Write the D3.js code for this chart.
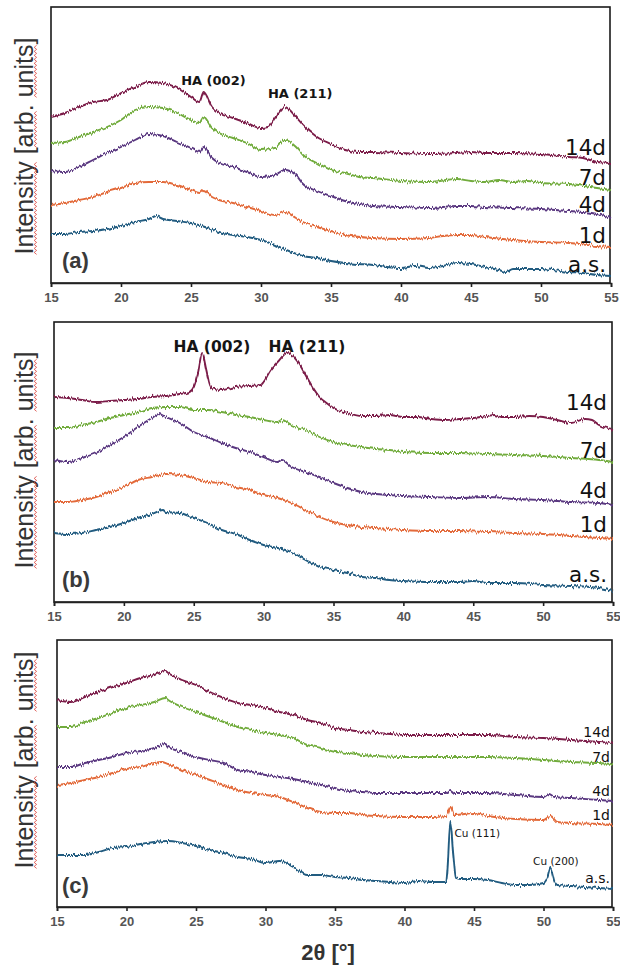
<!DOCTYPE html>
<html>
<head>
<meta charset="utf-8">
<script src="https://cdn.jsdelivr.net/npm/d3@7"></script>
<style>
  html, body { margin: 0; padding: 0; background: #fff; }
  svg { display: block; }
  .tick text { font-family: "Liberation Sans", Arial, sans-serif; font-weight: bold; font-size: 13px; fill: #555; }
  .series-label { font-family: "DejaVu Sans", sans-serif; fill: #111; }
  .peak-label { font-family: "DejaVu Sans", sans-serif; fill: #151515; }
</style>
</head>
<body>
<svg width="620" height="968"></svg>
<script>
// 2θ tick labels
var tickValues = [15, 20, 25, 30, 35, 40, 45, 50, 55];

var seriesNames = ["14d", "7d", "4d", "1d", "a.s."];
var seriesColors = ["#7b1f4a", "#72ac3e", "#5a3880", "#e36b3a", "#215b80"];

// panel (a) : [2θ, intensity a.u.]
var a14d = [[15,166],[16,170],[17,176],[18,181],[19,183],[20,190],[21,196],[22,201],[23,200],[24,195],[25,186],[25.6,181],[25.9,191],[26.5,176],[27,170],[28,165],[29,160],[30,155],[30.5,156],[31,165],[31.7,176],[32.5,166],[33,158],[34,146],[35,139],[36,133],[37,131],[38,131],[40,130],[42,129],[44,130],[45,131],[46,130],[48,130],[50,129],[52,126],[53,125],[54,121],[55,120]];
var a7d = [[15,140],[16,141],[17,146],[18,151],[19,156],[20,163],[21,173],[22,176],[23,175],[24,170],[25,163],[25.6,160],[25.9,166],[26.5,155],[27,150],[28,145],[29,140],[30,133],[31,135],[31.7,143],[32.5,136],[33,128],[34,120],[35,113],[36,110],[37,106],[38,105],[40,102],[42,101],[44,104],[45,102],[46,101],[47,103],[48,101],[49,102],[50,100],[52,99],[54,95],[55,93]];
var a4d = [[15,112],[16,111],[17,116],[18,123],[19,130],[20,136],[21,143],[22,149],[23,147],[24,141],[25,135],[25.6,131],[25.9,136],[26.5,125],[27,120],[28,116],[29,111],[30,106],[31,108],[31.7,113],[32.5,108],[33,99],[34,92],[35,87],[36,82],[37,79],[38,77],[40,76],[42,75],[44,77],[45,77],[46,76],[48,75],[50,74],[52,72],[54,69],[55,65]];
var a1d = [[15,78],[16,80],[17,83],[18,86],[19,91],[20,95],[21,100],[22,101],[23,101],[24,98],[25,93],[25.6,90],[25.9,93],[26.5,86],[27,83],[28,80],[29,76],[30,72],[31,68],[31.7,71],[32.5,65],[33,61],[34,56],[35,52],[36,48],[38,45],[40,44],[42,45],[43,47],[44,48],[45,48],[46,46],[48,43],[50,41],[52,40],[54,37],[55,36]];
var aAs = [[15,49],[16,49],[17,51],[18,52],[19,54],[20,57],[21,61],[22,64],[22.5,67],[23,64],[24,62],[25,60],[26,56],[27,51],[28,48],[29,46],[30,43],[31,38],[32,32],[33,27],[34,25],[35,22],[36,20],[37,19],[38,18],[39,16],[40,15],[41,17],[42,15],[43,17],[44,20],[45,19],[46,16],[47,13],[47.5,11],[48,14],[50,14],[52,11],[53,10],[54,8],[55,7]];

// panel (b)
var b14d = [[15,205],[16,204],[17,202],[18,200],[19,201],[20,202],[21,203],[22,205],[23,206],[24,208],[24.7,210],[25,215],[25.3,229],[25.6,249],[25.9,232],[26.2,215],[26.5,213],[27,212],[28,215],[29,216],[29.8,217],[30,220],[30.5,232],[31,240],[31.7,249],[32,247],[32.5,239],[33,227],[33.5,215],[34,205],[34.5,199],[35,194],[36,189],[37,186],[38,186],[39,187],[40,185],[41,185],[42,183],[43,182],[44,183],[45,184],[46,186],[46.5,187],[47,185],[48,185],[49,186],[50,185],[51,182],[52,179],[53,183],[53.5,182],[54,177],[55,173]];
var b7d = [[15,174],[16,174],[17,177],[18,180],[19,184],[20,187],[21,190],[22,194],[23,195],[24,195],[25,192],[26,192],[27,190],[28,187],[29,185],[30,182],[31,180],[31.3,182],[32,177],[33,172],[34,165],[35,160],[36,157],[37,155],[38,153],[39,152],[40,150],[42,149],[44,149],[46,148],[48,147],[50,146],[52,144],[54,142],[55,140]];
var b4d = [[15,142],[16,140],[17,144],[18,149],[19,157],[20,165],[21,175],[22,184],[22.5,188],[23,185],[24,179],[25,170],[26,165],[27,159],[28,154],[29,150],[30,145],[31,140],[31.3,142],[32,135],[33,130],[34,125],[35,119],[36,114],[37,110],[38,108],[39,107],[40,106],[42,105],[44,104],[46,105],[48,103],[50,102],[52,100],[54,99],[55,97]];
var b1d = [[15,100],[16,100],[17,102],[18,105],[19,110],[20,115],[21,122],[22,125],[23,128],[24,127],[25,124],[26,120],[27,119],[28,115],[29,112],[30,107],[31,104],[32,99],[33,92],[34,85],[35,80],[36,77],[37,75],[38,74],[39,73],[40,72],[42,71],[44,71],[46,70],[48,69],[50,68],[52,66],[54,64],[55,63]];
var bAs = [[15,69],[16,68],[17,69],[18,72],[19,75],[20,79],[21,84],[22,88],[22.8,92],[23,90],[24,89],[25,84],[26,79],[27,72],[28,68],[29,62],[30,57],[31,54],[32,50],[33,42],[34,35],[35,32],[36,29],[37,25],[38,24],[39,22],[40,21],[42,20],[44,20],[45,21],[46,19],[48,19],[50,17],[52,16],[54,14],[55,11]];

// panel (c)
var c14d = [[15,207],[16,205],[17,210],[18,215],[19,220],[20,224],[21,229],[22,232],[22.8,236],[23,234],[24,227],[25,222],[26,215],[27,209],[28,204],[29,202],[30,199],[31,195],[32,192],[33,187],[34,184],[35,179],[36,177],[37,175],[38,174],[39,173],[40,172],[42,172],[44,172],[46,172],[48,170],[50,169],[52,167],[54,165],[55,164]];
var c7d = [[15,180],[16,180],[17,185],[18,189],[19,194],[20,199],[21,202],[22,205],[22.8,209],[23,207],[24,200],[25,195],[26,190],[27,185],[28,180],[29,177],[30,174],[31,172],[32,169],[33,162],[34,159],[35,155],[36,154],[37,152],[38,151],[40,150],[42,150],[44,150],[46,150],[48,149],[50,147],[52,145],[54,144],[55,143]];
var c4d = [[15,140],[16,140],[17,144],[18,147],[19,150],[20,154],[21,156],[22,159],[22.8,163],[23,160],[24,155],[25,150],[26,147],[27,144],[28,137],[29,135],[30,132],[31,130],[32,128],[33,125],[34,122],[35,119],[36,116],[37,115],[38,114],[40,114],[42,114],[43,114],[43.3,117],[43.6,114],[44,114],[46,114],[48,112],[50,110],[50.4,113],[50.8,110],[52,109],[54,107],[55,106]];
var c1d = [[15,122],[16,124],[17,127],[18,130],[19,134],[20,138],[21,140],[22,144],[22.5,145],[23,143],[24,137],[25,132],[26,127],[27,122],[28,117],[29,114],[30,112],[31,110],[32,105],[33,99],[34,95],[35,94],[36,94],[37,92],[38,91],[40,90],[42,90],[43,91],[43.3,100],[43.6,92],[45,94],[46,91],[48,88],[50,87],[50.5,91],[51,85],[52,84],[54,83],[55,82]];
var cAs = [[15,52],[16,52],[17,52],[18,55],[19,59],[20,60],[21,63],[22,65],[23,66],[24,64],[25,61],[26,57],[27,54],[28,50],[29,48],[30,44],[31,46],[32,40],[33,32],[34,32],[35,30],[36,29],[37,27],[38,26],[39,25],[40,24],[41,26],[42,25],[43,25],[43.1,40],[43.3,85],[43.5,54],[43.7,29],[44,28],[45,28],[46,27],[47,24],[48,22],[49,22],[50,24],[50.3,30],[50.5,39],[50.8,25],[51,22],[52,21],[53,20],[54,19],[55,18]];

// reflection labels: [text, 2θ, intensity]
var peaksA = [["HA (002)", 26.6, 198], ["HA (211)", 32.8, 185]];
var peaksB = [["HA (002)", 26.3, 250], ["HA (211)", 33.1, 250]];
var peaksC = [["Cu (111)", 43.6, 70], ["Cu (200)", 49.25, 42]];

// where the series names sit (intensity of their baseline)
var labelLevelsA = [128, 98, 71, 40, 11];
var labelLevelsB = [192, 144, 104, 70, 20];
var labelLevelsC = [170, 145, 111, 87, 24];

var panels = [
  { tag: "(a)", series: [a14d, a7d, a4d, a1d, aAs], peaks: peaksA, levels: labelLevelsA,
    left: 51, right: 611, top: 7, bottom: 283, yMax: 276,
    labelSize: 21.5, labelInset: 5, peakSize: 13, peakAnchor: "middle", tagY: 268, titleY: 146 },
  { tag: "(b)", series: [b14d, b7d, b4d, b1d, bAs], peaks: peaksB, levels: labelLevelsB,
    left: 54, right: 613, top: 322, bottom: 602, yMax: 280,
    labelSize: 21.5, labelInset: 6, peakSize: 15.5, peakAnchor: "middle", tagY: 587, titleY: 460 },
  { tag: "(c)", series: [c14d, c7d, c4d, c1d, cAs], peaks: peaksC, levels: labelLevelsC,
    left: 57, right: 613, top: 640, bottom: 907, yMax: 267,
    labelSize: 14, labelInset: 3, peakSize: 10.5, peakAnchor: "start", tagY: 893, titleY: 760 }
];

var svg = d3.select("svg");

// jitter filter -> noisy diffraction look (style only)
var defs = svg.append("defs");
var filt = defs.append("filter")
  .attr("id", "grain")
  .attr("x", "-2%").attr("y", "-10%")
  .attr("width", "104%").attr("height", "120%");
filt.append("feTurbulence")
  .attr("type", "fractalNoise")
  .attr("baseFrequency", "0.8 0.05")
  .attr("numOctaves", 2)
  .attr("seed", 3)
  .attr("result", "noise");
filt.append("feColorMatrix")
  .attr("in", "noise")
  .attr("type", "matrix")
  .attr("values", "0 0 0 0 0.5  0 1 0 0 0  0 0 1 0 0  0 0 0 0 1")
  .attr("result", "noiseY");
filt.append("feDisplacementMap")
  .attr("in", "SourceGraphic")
  .attr("in2", "noiseY")
  .attr("scale", 5.5)
  .attr("xChannelSelector", "R")
  .attr("yChannelSelector", "G");

panels.forEach(function(p) {
  var x = d3.scaleLinear().domain([15, 55]).range([p.left, p.right]);
  var y = d3.scaleLinear().domain([0, p.yMax]).range([p.bottom, p.top]);
  var g = svg.append("g");

  // frame
  g.append("rect")
    .attr("x", x(15)).attr("y", p.top)
    .attr("width", x(55) - x(15) - 1).attr("height", p.bottom - p.top)
    .attr("fill", "none")
    .attr("stroke", "#1a1a1a")
    .attr("stroke-width", 1.6);

  var axis = g.append("g")
    .attr("transform", "translate(0," + p.bottom + ")")
    .call(d3.axisBottom(x).tickValues(tickValues).tickSize(4).tickPadding(6).tickFormat(d3.format("d")));
  axis.select(".domain").attr("stroke", "#222").attr("stroke-width", 1.6);
  axis.selectAll(".tick line").attr("stroke", "#222").attr("stroke-width", 1.6);

  var line = d3.line()
    .x(function(d) { return x(d[0]); })
    .y(function(d) { return y(d[1]); })
    .curve(d3.curveMonotoneX);

  g.append("g")
    .attr("filter", "url(#grain)")
    .selectAll("path")
    .data(p.series)
    .enter().append("path")
    .attr("d", line)
    .attr("fill", "none")
    .attr("stroke", function(d, i) { return seriesColors[i]; })
    .attr("stroke-width", 1.9)
    .attr("stroke-linejoin", "round");

  g.selectAll(".series-label")
    .data(seriesNames)
    .enter().append("text")
    .attr("class", "series-label")
    .attr("x", x(55) - p.labelInset)
    .attr("y", function(d, i) { return y(p.levels[i]); })
    .attr("text-anchor", "end")
    .style("font-size", p.labelSize + "px")
    .text(function(d) { return d; });

  g.selectAll(".peak-label")
    .data(p.peaks)
    .enter().append("text")
    .attr("class", "peak-label")
    .attr("x", function(d) { return x(d[1]); })
    .attr("y", function(d) { return y(d[2]); })
    .attr("text-anchor", p.peakAnchor)
    .style("font-size", p.peakSize + "px")
    .style("font-weight", p.peakAnchor === "middle" ? "bold" : "normal")
    .text(function(d) { return d[0]; });

  g.append("text")
    .attr("x", 62).attr("y", p.tagY)
    .style("font-family", "Liberation Sans, Arial, sans-serif")
    .style("font-size", "22px")
    .style("font-weight", "bold")
    .style("fill", "#3a3a3a")
    .text(p.tag);

  // y title, with the red spell-check squiggle under it
  var tg = g.append("g").attr("transform", "translate(33," + p.titleY + ") rotate(-90)");
  var title = tg.append("text")
    .attr("text-anchor", "middle")
    .style("font-family", "Liberation Sans, Arial, sans-serif")
    .style("font-size", "25px")
    .style("fill", "#333")
    .text("Intensity [arb. units]");
  var node = title.node();
  var full = node.getComputedTextLength();
  [["Intensity", 0], ["arb", 11], ["units", 16]].forEach(function(w) {
    var x0 = -full / 2 + (w[1] ? node.getSubStringLength(0, w[1]) : 0);
    var wl = node.getSubStringLength(w[1], w[0].length);
    var pts = d3.range(0, Math.floor(wl / 2) + 1).map(function(k) { return [x0 + k * 2, k % 2 ? 1.2 : 3.6]; });
    tg.append("path")
      .attr("d", d3.line()(pts))
      .attr("fill", "none")
      .attr("stroke", "#d9403a")
      .attr("stroke-width", 0.8);
  });
});

svg.append("text")
  .attr("x", 328).attr("y", 960)
  .attr("text-anchor", "middle")
  .style("font-family", "Liberation Sans, Arial, sans-serif")
  .style("font-size", "22px")
  .style("font-weight", "bold")
  .style("fill", "#333")
  .text("2θ [°]");
</script>
</body>
</html>
